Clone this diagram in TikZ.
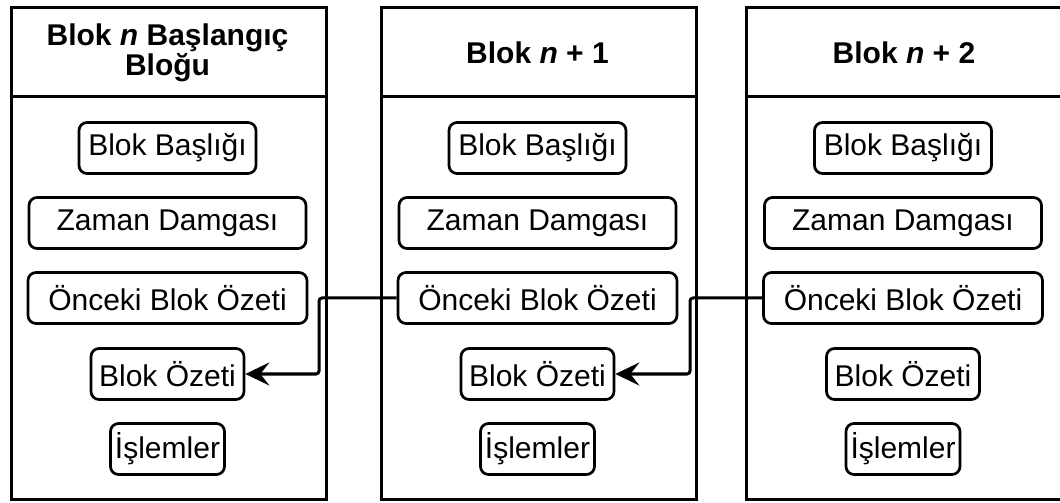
\documentclass[tikz,border=0pt]{standalone}
\usepackage{fontspec}
\setmainfont{Liberation Sans}
\usetikzlibrary{arrows.meta}

% the five fields of one block, centred on x = #1, named <field>#2
\newcommand\blockfields[2]{%
  \node[field, minimum width=177bp] (head#2) at (#1,148) {Blok Başlığı};
  \node[field, minimum width=277bp] (time#2) at (#1,223) {Zaman Damgası};
  \node[field, minimum width=279bp] (prev#2) at (#1,298) {Önceki Blok Özeti};
  \node[field, minimum width=153bp] (hash#2) at (#1,374) {Blok Özeti};
  \node[field, minimum width=114bp] (txs#2)  at (#1,449) {İşlemler};
}

\begin{document}
\begin{tikzpicture}[x=1bp, y=-1bp,
  blockframe/.style={draw, line width=3bp, inner sep=0pt, anchor=north west,
    minimum height=492bp},
  divider/.style={line width=3bp},
  headtext/.style={font=\fontsize{30bp}{30bp}\selectfont\bfseries, align=center},
  field/.style={draw, fill=white, line width=2.7bp, rounded corners=8bp,
    minimum height=51bp, inner sep=0pt, font=\fontsize{30bp}{36bp}\selectfont},
  link/.style={line width=3bp, rounded corners=3bp,
    -{Stealth[length=24bp, width=23bp, inset=9bp]}}
]
\useasboundingbox (0,0) rectangle (1060,503);

% block frames
\node[blockframe, minimum width=315bp] (blk1) at (10,6) {};
\node[blockframe, minimum width=315bp] (blk2) at (380,6) {};
\node[blockframe, minimum width=320bp] (blk3) at (745,6) {};

% header dividers
\foreach \b in {blk1, blk2, blk3}
  \draw[divider] (\b.west |- 0,97) -- (\b.east |- 0,97);

% headers
\node[headtext] (title1) at (167.5,53) {Blok \textit{n} Başlangıç\\Bloğu};
\node[headtext] (title2) at (537.5,53) {Blok \textit{n} + 1};
\node[headtext] (title3) at (904,53) {Blok \textit{n} + 2};

% fields
\blockfields{167.5}{1}
\blockfields{537.5}{2}
\blockfields{903}{3}

% hash links: previous-block hash points back to the previous block's hash
\coordinate (bend1) at (319,0);
\coordinate (bend2) at (690,0);
\draw[link] (prev2.west) -- (prev2.west -| bend1) |- (hash1.east);
\draw[link] (prev3.west) -- (prev3.west -| bend2) |- (hash2.east);
\end{tikzpicture}
\end{document}
